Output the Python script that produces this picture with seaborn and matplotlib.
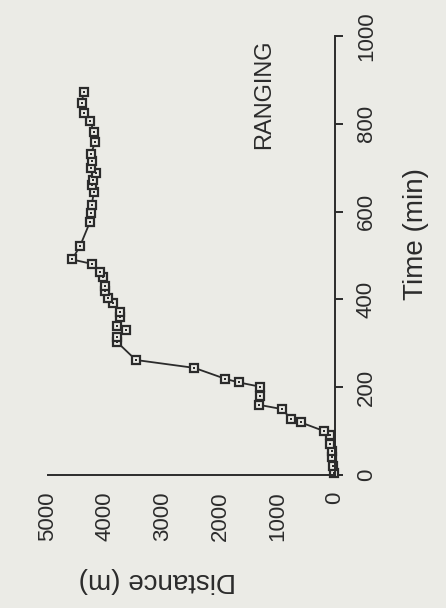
import matplotlib
matplotlib.use("Agg")
import matplotlib.pyplot as plt
import seaborn as sns
import pandas as pd

# Distance travelled over time during ranging
time_min = [5, 20, 40, 55, 70, 92, 100, 120, 128, 150, 160, 180, 201, 211, 219,
            244, 262, 302, 314, 330, 339, 359, 372, 391, 403, 418, 430, 452, 462,
            481, 491, 522, 576, 596, 615, 644, 660, 672, 687, 700, 715, 732, 758,
            782, 807, 824, 848, 873]
distance_m = [20, 30, 50, 60, 90, 90, 190, 600, 770, 920, 1330, 1300, 1300, 1680,
              1910, 2450, 3470, 3790, 3790, 3640, 3790, 3750, 3750, 3860, 3960,
              4000, 4000, 4050, 4090, 4240, 4580, 4440, 4270, 4250, 4240, 4200,
              4240, 4210, 4160, 4250, 4230, 4250, 4180, 4200, 4270, 4370, 4410,
              4380]

distance_ticks = [0, 1000, 2000, 3000, 4000, 5000]
time_ticks = [0, 200, 400, 600, 800, 1000]
title_text = "RANGING"
distance_label = "Distance (m)"
time_label = "Time (min)"

bg = "#ebebe6"
ink = "#2b2b2b"

sns.set_style("white")
plt.rcParams["font.family"] = ["Liberation Sans", "DejaVu Sans"]

df = pd.DataFrame({"time": time_min, "distance": distance_m})

fig = plt.figure(figsize=(4.46, 6.08), dpi=100, facecolor=bg)
ax = fig.add_axes([48 / 446, 1 - 475 / 608, (335 - 48) / 446, (475 - 36) / 608])
ax.set_facecolor(bg)

# Connected trace with open square markers (page is turned: distance runs right-to-left)
sns.lineplot(data=df, x="distance", y="time", sort=False, estimator=None,
             color=ink, linewidth=1.3, marker="s", markersize=6.2,
             markerfacecolor=bg, markeredgecolor=ink, markeredgewidth=1.6,
             clip_on=False, ax=ax)
# Centre dot inside each square
sns.scatterplot(data=df, x="distance", y="time", color=ink, s=3, linewidth=0,
                marker="s", clip_on=False, zorder=5, ax=ax)

ax.set_xlim(5000, 0)
ax.set_ylim(0, 1000)
ax.set_xticks(distance_ticks)
ax.set_yticks(time_ticks)
ax.set_xlabel("")
ax.set_ylabel("")

for side in ["top", "left"]:
    ax.spines[side].set_visible(False)
for side in ["bottom", "right"]:
    ax.spines[side].set_color(ink)
    ax.spines[side].set_linewidth(1.4)

ax.yaxis.tick_right()
ax.tick_params(axis="x", direction="out", length=6, width=1.4, color=ink,
               labelsize=16, labelcolor=ink, labelrotation=90, pad=6)
ax.tick_params(axis="y", direction="out", length=6, width=1.4, color=ink,
               labelsize=16, labelcolor=ink, labelrotation=90, pad=9,
               left=False, right=True, labelleft=False, labelright=True)
for lbl in ax.get_yticklabels():
    lbl.set_verticalalignment("center")

fig.text(157 / 446, 1 - 580 / 608, distance_label, rotation=180, ha="center",
         va="center", fontsize=20, color=ink)
fig.text(416 / 446, 1 - 234 / 608, time_label, rotation=90, ha="center",
         va="center", fontsize=20, color=ink)
fig.text(264 / 446, 1 - 94 / 608, title_text, rotation=90, ha="center",
         va="center", fontsize=17, color=ink)

fig.savefig("out.png", dpi=100, facecolor=bg)
